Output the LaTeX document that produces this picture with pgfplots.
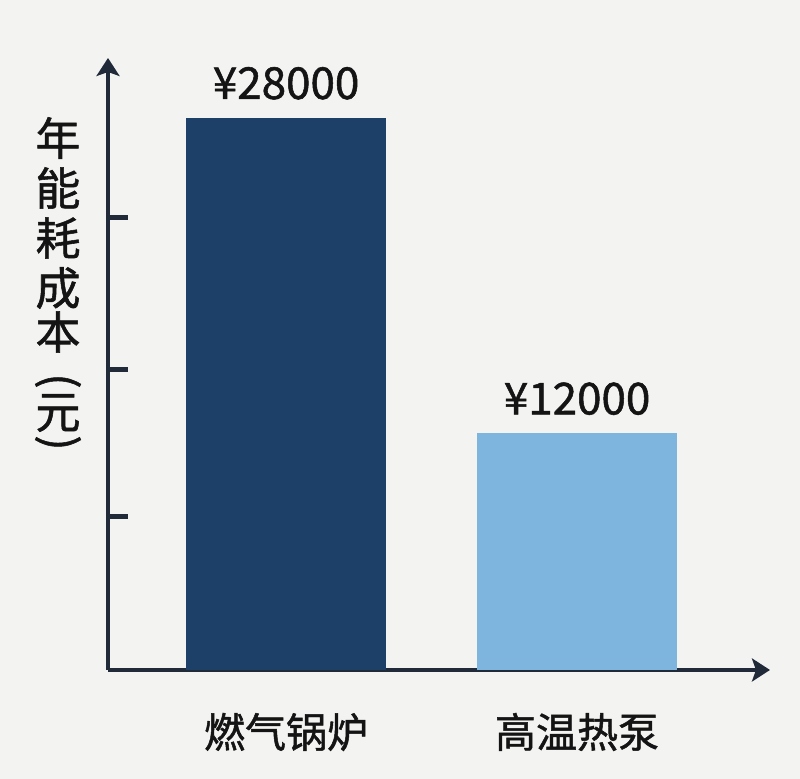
\documentclass[border=0pt]{standalone}
\usepackage{fontspec}
\setmainfont{Noto Sans CJK SC}
\newfontfamily\med{Noto Sans CJK SC}[FakeBold=1.2]
\usepackage{pgfplots}
\pgfplotsset{compat=1.18}
\usetikzlibrary{arrows.meta}

\definecolor{bg}{RGB}{243,243,242}
\definecolor{navy}{RGB}{29,64,104}
\definecolor{sky}{RGB}{126,181,222}
\definecolor{axiscol}{RGB}{32,42,56}
\definecolor{txt}{RGB}{20,20,20}

% pixel of the 800x779 reference -> picture coordinate (1px = 0.5pt)
\newcommand\px[2]{({#1*0.5pt},{(779-#2)*0.5pt})}

\begin{document}
\begin{tikzpicture}
\fill[bg] (0,0) rectangle (400pt,389.5pt);
\begin{axis}[
  at={(54pt,54.5pt)}, anchor=south west,
  scale only axis, width=331pt, height=306pt,
  xmin=-0.612, xmax=1.663, ymin=0, ymax=31040,
  axis lines=left,
  axis line style={line width=2pt, draw=axiscol,
    -{Stealth[length=9pt,width=11.5pt,inset=2pt]}},
  xtick={0,1}, xticklabels={燃气锅炉,高温热泵},
  x tick style={draw=none},
  xticklabel style={font=\med\fontsize{20.5}{24}\selectfont, text=txt,
    anchor=center, inner sep=0pt, yshift=-21pt},
  ytick={7760,15220,22930}, yticklabels={}, scaled y ticks=false,
  y tick style={line width=2.5pt, draw=axiscol},
  tick align=inside, major tick length=10pt,
  ybar, bar width=100pt, bar shift=0pt,
  nodes near coords, point meta=explicit symbolic,
  nodes near coords style={font=\med\fontsize{22}{26}\selectfont, text=txt,
    anchor=south, inner sep=0pt, yshift=9pt},
  clip=false,
]
\addplot[fill=navy, draw=none] coordinates {(0,28000) [¥28000]};
\addplot[fill=sky, draw=none] coordinates {(1,12000) [¥12000]};
\end{axis}

% vertical axis title, one character per line
\foreach \c/\y in {年/138,能/188,耗/238,成/288,本/332,元/413}
  \node[font=\med\fontsize{22.5}{26}\selectfont, text=txt, inner sep=0pt] at \px{58}{\y} {\c};
\node[font=\med\fontsize{22.5}{26}\selectfont, text=txt, inner sep=0pt, rotate=-90] at \px{58}{381} {(};
\node[font=\med\fontsize{22.5}{26}\selectfont, text=txt, inner sep=0pt, rotate=-90] at \px{58}{443} {)};

\pgfresetboundingbox
\useasboundingbox (0,0) rectangle (400pt,389.5pt);
\end{tikzpicture}
\end{document}
